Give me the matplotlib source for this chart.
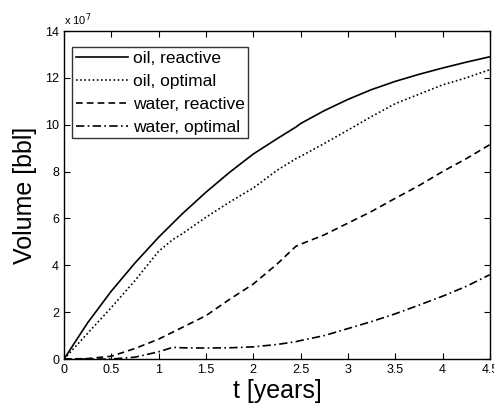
import matplotlib
matplotlib.use("Agg")
import matplotlib.pyplot as plt

plt.rcParams['font.family'] = ['Liberation Sans', 'DejaVu Sans']

t_years = [0, 0.25, 0.5, 0.75, 1.0, 1.15, 1.25, 1.5, 1.75, 2.0, 2.25, 2.45, 2.5,
           2.75, 3.0, 3.25, 3.5, 3.75, 4.0, 4.25, 4.5]
oil_reactive = [0, 1.55, 2.9, 4.1, 5.2, 5.8, 6.2, 7.12, 7.97, 8.75, 9.4, 9.9, 10.05,
                10.6, 11.08, 11.5, 11.85, 12.15, 12.42, 12.67, 12.9]
oil_optimal = [0, 1.1, 2.2, 3.35, 4.6, 5.1, 5.35, 6.05, 6.7, 7.3, 8.05, 8.55, 8.65,
               9.2, 9.77, 10.35, 10.9, 11.3, 11.7, 12.0, 12.35]
water_reactive = [0, 0.02, 0.12, 0.45, 0.85, 1.15, 1.35, 1.85, 2.55, 3.2, 4.05, 4.81, 4.9,
                  5.3, 5.8, 6.3, 6.86, 7.4, 8.0, 8.55, 9.15]
water_optimal = [0, 0, 0, 0.08, 0.31, 0.5, 0.48, 0.47, 0.48, 0.52, 0.62, 0.74, 0.79,
                 1.0, 1.3, 1.6, 1.93, 2.3, 2.68, 3.1, 3.6]
labels = ['oil, reactive', 'oil, optimal', 'water, reactive', 'water, optimal']
x_ticks = [0, 0.5, 1, 1.5, 2, 2.5, 3, 3.5, 4, 4.5]
x_tick_labels = ['0', '0.5', '1', '1.5', '2', '2.5', '3', '3.5', '4', '4.5']
y_ticks = [0, 2, 4, 6, 8, 10, 12, 14]

fig = plt.figure(figsize=(4.94, 4.08), dpi=100)
ax = fig.add_axes([0.1296, 0.120, 0.862, 0.804])

lw = 1.2
ax.plot(t_years, oil_reactive, color='black', lw=lw, ls='-', label=labels[0])
ax.plot(t_years, oil_optimal, color='black', lw=lw, ls=(0, (1, 1.5)), label=labels[1])
ax.plot(t_years, water_reactive, color='black', lw=lw, ls=(0, (4, 2.5)), label=labels[2])
ax.plot(t_years, water_optimal, color='black', lw=lw, ls=(0, (5, 2, 1, 2)), label=labels[3])

ax.set_xlim(0, 4.5)
ax.set_ylim(0, 14)
ax.set_xticks(x_ticks)
ax.set_xticklabels(x_tick_labels)
ax.set_yticks(y_ticks)
ax.tick_params(direction='in', top=True, right=True, labelsize=9, length=4, width=0.8)
for s in ax.spines.values():
    s.set_linewidth(1.0)

ax.set_xlabel('t [years]', fontsize=18, labelpad=2)
ax.set_ylabel('Volume [bbl]', fontsize=18, labelpad=6)
ax.text(0.0, 1.01, 'x 10$^{7}$', transform=ax.transAxes, fontsize=8, ha='left', va='bottom')

leg = ax.legend(loc='upper left', bbox_to_anchor=(0.019, 0.951), fontsize=12.5,
                frameon=True, fancybox=False, edgecolor='black', handlelength=3.0,
                handletextpad=0.3, borderaxespad=0.0, labelspacing=0.45, borderpad=0.2)
leg.get_frame().set_linewidth(1.0)

fig.savefig('out.png', dpi=100)
